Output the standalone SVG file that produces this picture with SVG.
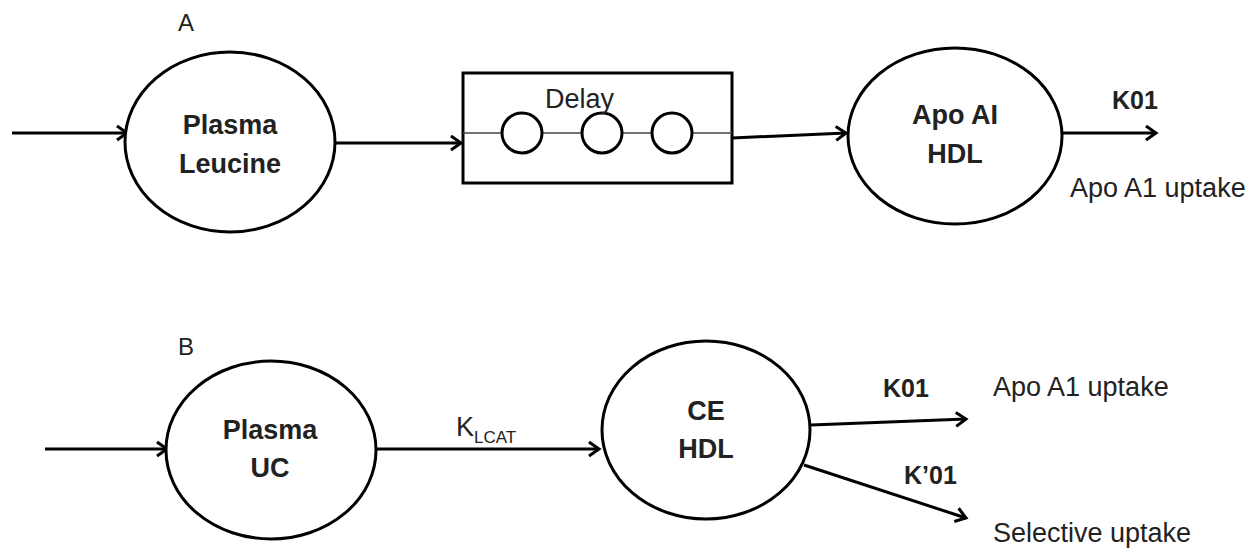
<svg xmlns="http://www.w3.org/2000/svg" width="1259" height="550" viewBox="0 0 1259 550">
  <style>
    .shape { fill: #fff; stroke: #000; stroke-width: 3; }
    .conn { fill: none; stroke: #000; stroke-width: 3; }
    .thin { fill: none; stroke: #444; stroke-width: 1.5; }
    .lbl { font-family: "Liberation Sans", Arial, sans-serif; fill: #222; }
    .bold { font-weight: bold; font-size: 27px; text-anchor: middle; }
    .norm { font-size: 27px; }
    .k { font-weight: bold; font-size: 25px; }
    .panel { font-size: 24px; }
  </style>
  <defs>
    <marker id="arrow" markerUnits="userSpaceOnUse" markerWidth="20" markerHeight="20" refX="0" refY="0" viewBox="-12 -10 14 20" orient="auto">
      <path d="M -10 -7 L 0 0 L -10 7" fill="none" stroke="#000" stroke-width="3" stroke-linejoin="miter"/>
    </marker>
  </defs>

  <rect width="1259" height="550" fill="#fff"/>

  <text class="lbl panel" x="178" y="31">A</text>
  <text class="lbl panel" x="178" y="355">B</text>

  <g id="connectors">
    <line class="conn" x1="12" y1="133" x2="127" y2="133" marker-end="url(#arrow)"/>
    <line class="conn" x1="335" y1="143" x2="461" y2="143" marker-end="url(#arrow)"/>
    <line class="conn" x1="732" y1="138" x2="846" y2="133" marker-end="url(#arrow)"/>
    <line class="conn" x1="1062" y1="133" x2="1156" y2="133" marker-end="url(#arrow)"/>
    <line class="conn" x1="45" y1="449" x2="167" y2="449" marker-end="url(#arrow)"/>
    <line class="conn" x1="377" y1="449" x2="599" y2="449" marker-end="url(#arrow)"/>
    <line class="conn" x1="811" y1="425" x2="966" y2="419" marker-end="url(#arrow)"/>
    <line class="conn" x1="804" y1="465" x2="966" y2="518" marker-end="url(#arrow)"/>
  </g>

  <g id="plasma-leucine">
    <ellipse class="shape" cx="230" cy="142" rx="105" ry="90"/>
    <text class="lbl bold" x="230" y="134">Plasma</text>
    <text class="lbl bold" x="230" y="173">Leucine</text>
  </g>

  <g id="delay">
    <rect class="shape" x="463" y="73" width="269" height="110"/>
    <line class="thin" x1="463" y1="133" x2="732" y2="133"/>
    <circle class="shape" cx="522" cy="133" r="20"/>
    <circle class="shape" cx="602" cy="133" r="20"/>
    <circle class="shape" cx="672" cy="133" r="20"/>
    <text class="lbl norm" x="545" y="108">Delay</text>
  </g>

  <g id="apoai-hdl">
    <ellipse class="shape" cx="955" cy="136" rx="107" ry="88"/>
    <text class="lbl bold" x="955" y="124">Apo AI</text>
    <text class="lbl bold" x="955" y="163">HDL</text>
  </g>

  <text class="lbl k" x="1112" y="109">K01</text>
  <text class="lbl norm" x="1070" y="197">Apo A1 uptake</text>

  <g id="plasma-uc">
    <ellipse class="shape" cx="271" cy="450" rx="105" ry="89"/>
    <text class="lbl bold" x="270" y="439">Plasma</text>
    <text class="lbl bold" x="270" y="477">UC</text>
  </g>

  <text class="lbl norm" x="456" y="436">K<tspan font-size="17" dy="7">LCAT</tspan></text>

  <g id="ce-hdl">
    <ellipse class="shape" cx="706" cy="430" rx="104" ry="89"/>
    <text class="lbl bold" x="706" y="420">CE</text>
    <text class="lbl bold" x="706" y="458">HDL</text>
  </g>

  <text class="lbl k" x="883" y="397">K01</text>
  <text class="lbl norm" x="993" y="396">Apo A1 uptake</text>
  <text class="lbl k" x="904" y="484">K’01</text>
  <text class="lbl norm" x="993" y="542">Selective uptake</text>
</svg>
